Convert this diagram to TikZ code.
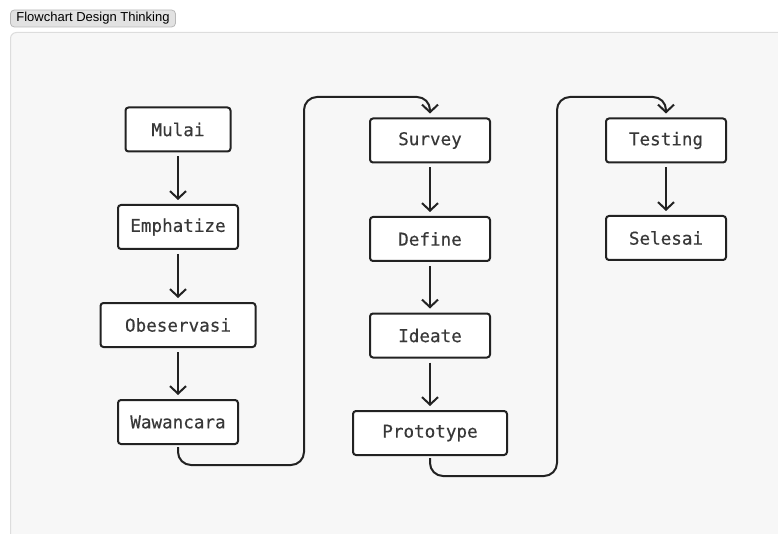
\documentclass[tikz,border=0pt]{standalone}
\usepackage{fontspec}
\setmainfont{Liberation Sans}
\newfontfamily\monofont[FakeBold=0.35]{DejaVu Sans Mono}
\usetikzlibrary{arrows.meta}
\definecolor{panelbg}{HTML}{F7F7F7}
\definecolor{panelline}{HTML}{DDDDDD}
\definecolor{tabbg}{HTML}{E2E2E2}
\definecolor{tabline}{HTML}{B8B8B8}
\definecolor{ink}{HTML}{222222}
\tikzset{
  box/.style={draw=ink, line width=2pt, fill=white, rounded corners=3pt,
    minimum height=44pt, inner sep=0pt, font=\monofont\fontsize{17.6}{20}\selectfont, text=ink!90},
  flow/.style={draw=ink, line width=2pt, shorten >=4pt, shorten <=4pt,
    -{Straight Barb[length=7.5pt,width=16pt,line width=2pt]}},
  elbowflow/.style={flow, rounded corners=13pt, shorten <=2pt},
}
\begin{document}
\begin{tikzpicture}[x=1pt,y=-1pt]
\useasboundingbox (0,0) rectangle (778,534);
% panel
\draw[fill=panelbg, draw=panelline, line width=1pt, rounded corners=6pt] (10.5,32.5) rectangle (790,545);
% tab
\node[draw=tabline, fill=tabbg, rounded corners=4pt, line width=0.8pt, inner xsep=6pt, inner ysep=0pt,
  minimum height=17pt, anchor=west, font=\fontsize{13}{15}\selectfont] (tab) at (10,18.5) {Flowchart Design Thinking};
% column 1
\node[box, minimum width=105pt] (mulai) at (178,129.5) {Mulai};
\node[box, minimum width=120pt] (emph) at (178,227) {Emphatize};
\node[box, minimum width=155pt] (obs) at (178,325) {Obeservasi};
\node[box, minimum width=120pt] (waw) at (178,422) {Wawancara};
% column 2
\node[box, minimum width=120pt] (survey) at (430,140.5) {Survey};
\node[box, minimum width=120pt] (define) at (430,239) {Define};
\node[box, minimum width=120pt] (ideate) at (430,335.5) {Ideate};
\node[box, minimum width=154pt] (proto) at (430,433) {Prototype};
% column 3
\node[box, minimum width=120pt] (testing) at (666,140.5) {Testing};
\node[box, minimum width=120pt] (selesai) at (666,238) {Selesai};
% coordinates for bends
\coordinate (b1) at (304,465);
\coordinate (t1) at (304,97);
\coordinate (b2) at (557,476);
\coordinate (t2) at (557,97);
% arrows
\draw[flow] (mulai) -- (emph);
\draw[flow] (emph) -- (obs);
\draw[flow] (obs) -- (waw);
\draw[flow] (survey) -- (define);
\draw[flow] (define) -- (ideate);
\draw[flow] (ideate) -- (proto);
\draw[flow] (testing) -- (selesai);
\draw[elbowflow] (waw.south) |- (b1) -- (t1) -| (survey.north);
\draw[elbowflow] (proto.south) |- (b2) -- (t2) -| (testing.north);
\end{tikzpicture}
\end{document}
